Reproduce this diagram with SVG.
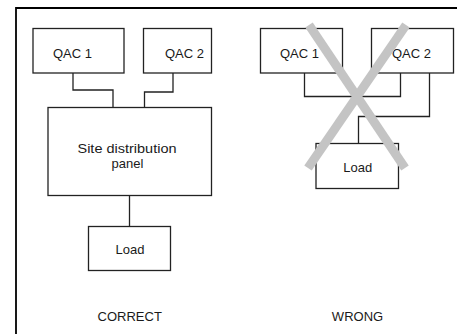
<svg xmlns="http://www.w3.org/2000/svg" width="457" height="334" viewBox="0 0 457 334">
<style>
.box{fill:#fff;stroke:#222;stroke-width:1.3}
.wire{fill:none;stroke:#222;stroke-width:1.3}
.frame{fill:none;stroke:#000;stroke-width:1.8}
text{font-family:"Liberation Sans",Arial,sans-serif;font-size:13px;fill:#1a1a1a;text-anchor:middle}
.cross{stroke:#c4c4c4;stroke-width:9;stroke-linecap:butt}
</style>
<rect width="457" height="334" fill="#fff"/>
<path class="frame" d="M16,334 V8 H457"/>
<g id="connectors">
<path class="wire" d="M73,73 V90 H113 V107"/>
<path class="wire" d="M173,73 V92 H144.5 V107"/>
<path class="wire" d="M129.5,195.5 V226.5"/>
<path class="wire" d="M304.5,73 V96.5 H400.5 V73"/>
<path class="wire" d="M429.5,73 V116.5 H358.5 V143.5"/>
</g>
<g id="qac1-correct"><rect class="box" x="33" y="28.5" width="91" height="44.5"/><text x="72.5" y="58">QAC 1</text></g>
<g id="qac2-correct"><rect class="box" x="143.5" y="28.5" width="68" height="44.5"/><text x="184.5" y="58">QAC 2</text></g>
<g id="panel"><rect class="box" x="48" y="107.5" width="163.5" height="88"/><text x="127" y="152.5" textLength="99" lengthAdjust="spacingAndGlyphs">Site distribution</text><text x="127.5" y="168">panel</text></g>
<g id="load-correct"><rect class="box" x="88.5" y="226.5" width="82" height="44"/><text x="130" y="254">Load</text></g>
<g id="label-correct"><text x="129.7" y="321">CORRECT</text></g>
<g id="qac1-wrong"><rect class="box" x="260.5" y="28.5" width="82" height="44.5"/><text x="299.5" y="58">QAC 1</text></g>
<g id="qac2-wrong"><rect class="box" x="371.5" y="28.5" width="82" height="44.5"/><text x="411.5" y="58">QAC 2</text></g>
<g id="load-wrong"><rect class="box" x="316" y="143.5" width="82.5" height="45"/><text x="357.8" y="172">Load</text></g>
<g id="label-wrong"><text x="357.5" y="321">WRONG</text></g>
<g id="cross">
<line class="cross" x1="309" y1="25" x2="405" y2="168"/>
<line class="cross" x1="406" y1="25" x2="308" y2="168"/>
</g>
</svg>
